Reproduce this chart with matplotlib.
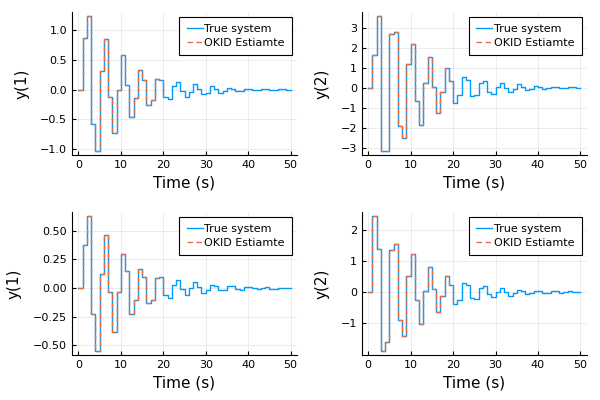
import numpy as np
import matplotlib
matplotlib.use("Agg")
import matplotlib.pyplot as plt

# time axis, one sample per second
t = np.arange(0, 51)
n_okid = 21  # estimate is only shown for the first 21 samples

# top row (first input)
y1_top = [0, 0.87, 1.24, -0.58, -1.03, 0.32, 0.86, -0.13, -0.72, 0.0,
          0.58, 0.08, -0.46, -0.14, 0.34, 0.16, -0.26, -0.17, 0.18, 0.16,
          -0.13, -0.16, 0.07, 0.13, -0.02, -0.12, -0.03, 0.09, 0.02, -0.08,
          -0.06, 0.06, 0.02, -0.05, -0.02, 0.03, 0.02, -0.02, -0.02, 0.02,
          0.02, -0.01, -0.01, 0.01, 0.01, -0.01, -0.01, 0.005, 0.005, -0.003,
          0.0]
y2_top = [0, 1.65, 3.59, -3.16, -3.16, 2.68, 2.79, -1.92, -2.50, 1.21,
          2.20, -0.64, -1.87, 0.25, 1.55, 0.03, -1.27, -0.20, 0.98, 0.33,
          -0.74, -0.36, 0.55, 0.38, -0.40, -0.36, 0.26, 0.35, -0.20, -0.31,
          0.03, 0.26, 0.0, -0.21, -0.05, 0.18, 0.03, -0.13, -0.07, 0.10,
          0.05, -0.07, -0.03, 0.05, 0.03, -0.03, -0.02, 0.03, 0.02, -0.01,
          0.0]

# bottom row (second input)
y1_bot = [0, 0.38, 0.63, -0.23, -0.55, 0.12, 0.46, -0.03, -0.38, -0.03,
          0.30, 0.15, -0.23, -0.10, 0.17, 0.10, -0.13, -0.10, 0.09, 0.10,
          -0.06, -0.09, 0.03, 0.07, -0.01, -0.06, 0.0, 0.05, 0.01, -0.04,
          -0.02, 0.03, 0.015, -0.02, -0.02, 0.02, 0.015, -0.01, -0.02, 0.01,
          0.01, 0.0, -0.01, 0.005, 0.01, -0.005, -0.01, 0.005, 0.005, 0.0,
          0.0]
y2_bot = [0, 2.43, 1.38, -1.88, -1.58, 1.33, 1.53, -0.88, -1.39, 0.52,
          1.21, -0.24, -1.01, 0.04, 0.81, 0.10, -0.65, -0.13, 0.51, 0.22,
          -0.37, -0.24, 0.28, 0.23, -0.20, -0.22, 0.13, 0.19, -0.06, -0.15,
          0.0, 0.14, 0.0, -0.11, -0.03, 0.08, 0.03, -0.06, -0.03, 0.05,
          0.03, -0.03, -0.02, 0.02, 0.02, -0.02, -0.01, 0.02, 0.01, -0.01,
          0.0]

ylabels = ["y(1)", "y(2)", "y(1)", "y(2)"]
series = [y1_top, y2_top, y1_bot, y2_bot]
yticks = [[-1.0, -0.5, 0.0, 0.5, 1.0],
          [-3, -2, -1, 0, 1, 2, 3],
          [-0.5, -0.25, 0.0, 0.25, 0.5],
          [-1, 0, 1, 2]]
yfmt = ["{:.1f}", "{:.0f}", "{:.2f}", "{:.0f}"]

blue = "#009AFA"
orange = "#E36F47"

fig = plt.figure(figsize=(6, 4), dpi=100)
boxes = [(0.12, 0.6125, 0.375, 0.3575),
         (0.603, 0.6125, 0.375, 0.3575),
         (0.12, 0.1125, 0.375, 0.3575),
         (0.603, 0.1125, 0.375, 0.3575)]

for box, y, lab, yt, fmt in zip(boxes, series, ylabels, yticks, yfmt):
    ax = fig.add_axes(box)
    y = np.asarray(y)
    ax.step(t, y, where="post", color=blue, lw=1.0, label="True system")
    ax.step(t[:n_okid], y[:n_okid], where="post", color=orange, lw=1.0,
            ls=(0, (4, 2.5)), label="OKID Estiamte")

    # Plots.jl style: widen limits by 3% on each side
    ax.set_xlim(-1.5, 51.5)
    pad = 0.03 * (y.max() - y.min())
    ax.set_ylim(y.min() - pad, y.max() + pad)

    ax.set_xticks([0, 10, 20, 30, 40, 50])
    ax.set_yticks(yt)
    ax.set_yticklabels([fmt.format(v).replace("-", "\u2212") for v in yt])
    ax.tick_params(direction="in", length=3, labelsize=8)
    ax.grid(True, color="black", alpha=0.1, lw=0.5)
    for s in ["top", "right"]:
        ax.spines[s].set_visible(False)
    ax.set_xlabel("Time (s)", fontsize=11)
    ax.set_ylabel(lab, fontsize=11, labelpad=8)

    leg = ax.legend(loc="upper right", fontsize=8, fancybox=False,
                    framealpha=1, edgecolor="black", borderaxespad=0.45,
                    handlelength=1.45, handletextpad=0.15, borderpad=0.65,
                    labelspacing=0.3)
    leg.get_frame().set_linewidth(0.8)

fig.savefig("out.png", dpi=100)
